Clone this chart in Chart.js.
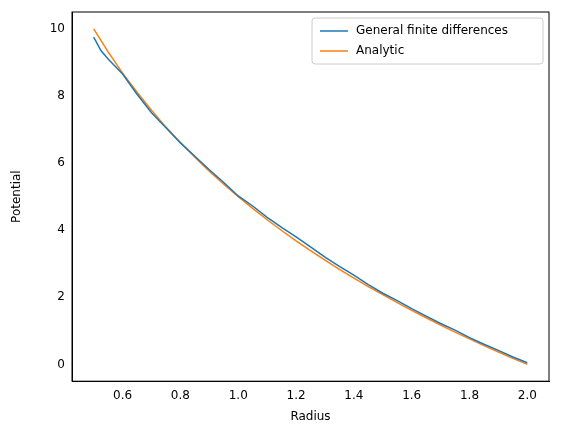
<!DOCTYPE html>
<html><head><script src="https://cdn.jsdelivr.net/npm/chart.js@4"></script>
<style>body{margin:0;background:#fff}#w{width:562px;height:432px}</style></head>
<body><div id="w"><canvas id="c"></canvas></div>
<script>
const fdR=[0.5,0.525,0.55,0.6,0.65,0.7,0.75,0.8,0.85,0.9,0.95,1.0,1.05,1.1,1.15,1.2,1.25,1.3,1.35,1.4,1.45,1.5,1.55,1.6,1.65,1.7,1.75,1.8,1.85,1.9,1.95,2.0];
const fdV=[9.75,9.35,9.1,8.65,8.05,7.5,7.05,6.6,6.2,5.8,5.42,5.02,4.72,4.38,4.08,3.8,3.5,3.2,2.92,2.66,2.38,2.12,1.9,1.66,1.44,1.22,1.02,0.8,0.6,0.42,0.22,0.05];
const anR=[0.5,0.55,0.6,0.65,0.7,0.75,0.8,0.85,0.9,0.95,1.0,1.05,1.1,1.15,1.2,1.25,1.3,1.35,1.4,1.45,1.5,1.55,1.6,1.65,1.7,1.75,1.8,1.85,1.9,1.95,2.0];
const anV=[10.0,9.31,8.68,8.11,7.57,7.07,6.61,6.17,5.76,5.37,5.0,4.65,4.31,3.99,3.68,3.39,3.11,2.83,2.57,2.32,2.08,1.84,1.61,1.39,1.17,0.96,0.76,0.56,0.37,0.18,0.0];
const xTicks=[0.6,0.8,1.0,1.2,1.4,1.6,1.8,2.0];
const yTicks=[0,2,4,6,8,10];
const F="'DejaVu Sans'";
new Chart(document.getElementById('c'),{type:'line',
data:{datasets:[
{label:'General finite differences',data:fdR.map((r,i)=>({x:r,y:fdV[i]})),borderColor:'#1f77b4',borderWidth:1.5,pointRadius:0,tension:0},
{label:'Analytic',data:anR.map((r,i)=>({x:r,y:anV[i]})),borderColor:'#ff7f0e',borderWidth:1.5,pointRadius:0,tension:0}]},
options:{responsive:true,maintainAspectRatio:false,animation:false,
layout:{padding:{top:12,right:13,left:6,bottom:4}},
plugins:{legend:{display:false},tooltip:{enabled:false}},
scales:{
x:{type:'linear',min:0.425,max:2.075,
afterBuildTicks:a=>{a.ticks=xTicks.map(v=>({value:v}));},
ticks:{font:{family:F,size:12},color:'#000',callback:v=>v.toFixed(1),maxRotation:0},
grid:{display:false,drawTicks:true,tickLength:4,tickColor:'#000'},border:{color:'#000'},
title:{display:true,text:'Radius',font:{family:F,size:12},color:'#000'}},
y:{min:-0.5,max:10.5,
afterBuildTicks:a=>{a.ticks=yTicks.map(v=>({value:v}));},
afterFit:s=>{s.width=66;},
ticks:{font:{family:F,size:12},color:'#000'},
grid:{display:false,drawTicks:true,tickLength:4,tickColor:'#000'},border:{color:'#000'},
title:{display:true,text:'Potential',font:{family:F,size:12},color:'#000'}}}},
plugins:[{id:'box',afterDraw(c){const a=c.chartArea,x=c.ctx;x.save();x.strokeStyle='#000';x.lineWidth=1;x.strokeRect(a.left,a.top,a.right-a.left,a.bottom-a.top);
const ds=c.data.datasets;x.font="12px "+F;const bw=231,bh=46,bx=a.right-6-bw,by=a.top+6;
x.strokeStyle='#ccc';x.fillStyle='rgba(255,255,255,0.8)';x.beginPath();x.roundRect(bx,by,bw,bh,3);x.fill();x.stroke();
ds.forEach((d,i)=>{const yy=by+13+i*20;x.strokeStyle=d.borderColor;x.lineWidth=1.5;x.beginPath();x.moveTo(bx+8,yy);x.lineTo(bx+36,yy);x.stroke();x.fillStyle='#000';x.textBaseline='middle';x.fillText(d.label,bx+44,yy);});
x.restore();}}]
});
</script></body></html>
